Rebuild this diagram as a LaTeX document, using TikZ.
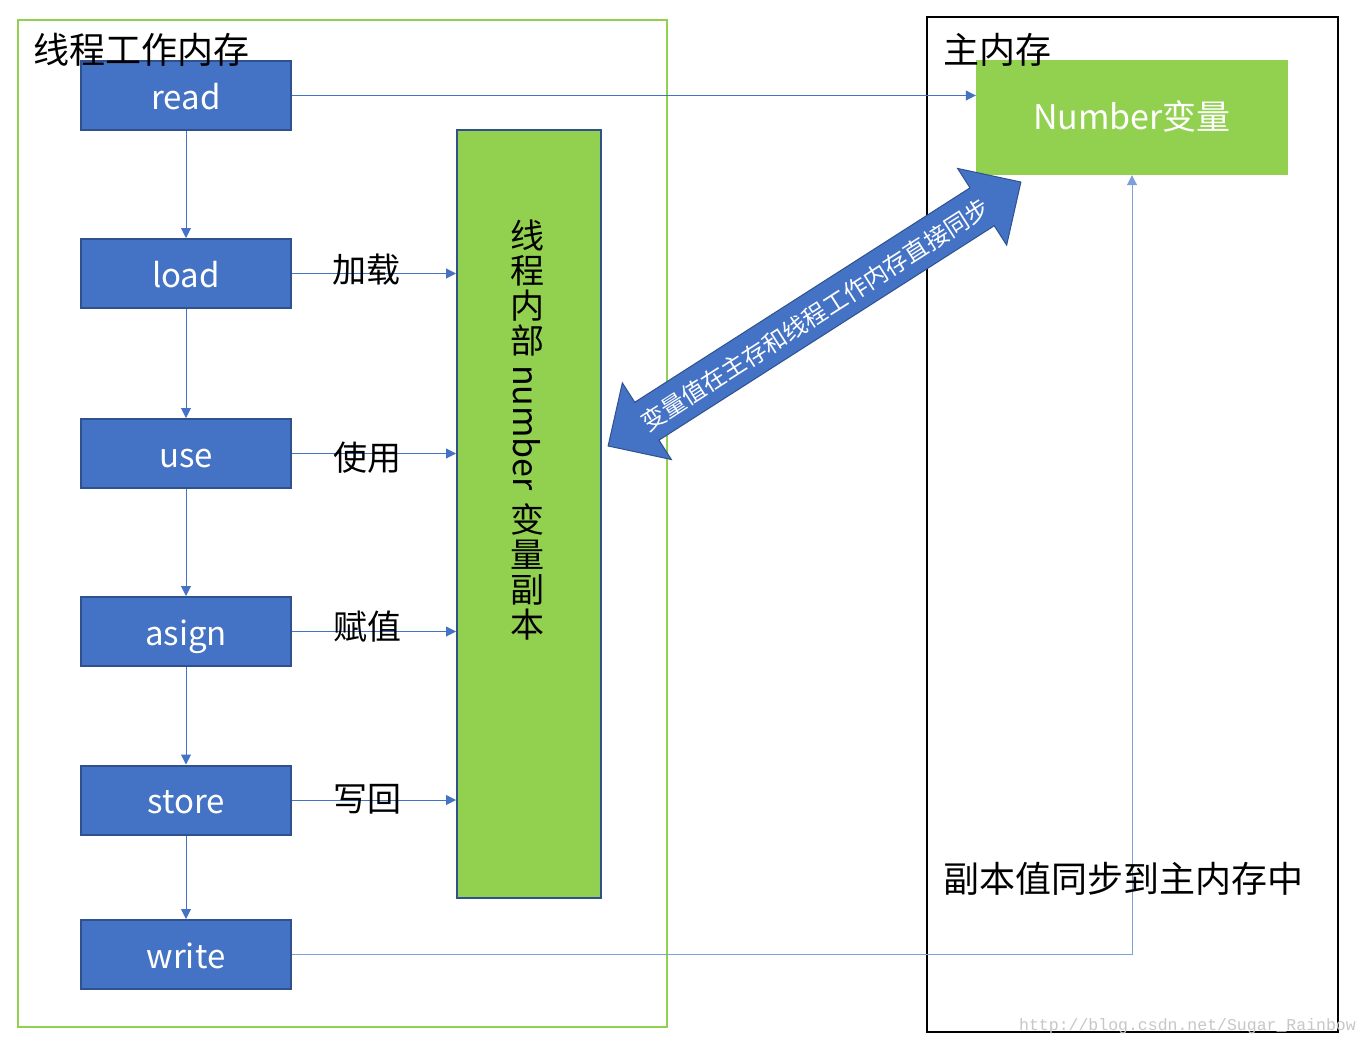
\documentclass[tikz,border=0pt]{standalone}
\usepackage{fontspec}
\usepackage{graphicx}
\setmainfont{Noto Sans CJK SC}
\newfontfamily\wmfont{Liberation Mono}
\usetikzlibrary{arrows.meta}
\definecolor{ppblue}{HTML}{4472C4}
\definecolor{ppdark}{HTML}{2F528F}
\definecolor{ppgreen}{HTML}{92D050}
\definecolor{pplight}{HTML}{7F9FD8}
\newcommand\vch[1]{\hbox to 40pt{\hss\vrule height 29pt depth 5pt width 0pt #1\hss}}
\begin{document}
\begin{tikzpicture}[x=1pt,y=-1pt,
  opbox/.style={draw=ppdark, line width=2pt, fill=ppblue, text=white, minimum width=210pt, minimum height=69pt, inner sep=0pt, text height=27pt, text depth=0pt, font=\fontsize{33}{33}\selectfont},
  conn/.style={draw=ppblue, line width=1pt, -{Triangle[length=10pt,width=10pt]}},
  lbl/.style={font=\fontsize{34}{34}\selectfont, inner sep=0pt},
  ttl/.style={font=\fontsize{36}{36}\selectfont, inner sep=0pt, anchor=west},
  ]
\useasboundingbox[fill=white] (0,0) rectangle (1366,1044);
% frames
\node[draw=ppgreen, line width=2pt, minimum width=649pt, minimum height=1007pt, inner sep=0pt] (thread) at (342.5,523.5) {};
\node[draw=black, line width=2pt, minimum width=411pt, minimum height=1015pt, inner sep=0pt] (main) at (1132.5,524.5) {};
% operation boxes
\node[opbox] (read) at (186,95.5) {read};
\node[opbox] (load) at (186,273.5) {load};
\node[opbox] (use) at (186,453.5) {use};
\node[opbox] (asign) at (186,631.5) {asign};
\node[opbox] (store) at (186,800) {store};
\node[opbox] (write) at (186,954.5) {write};
% copy box
\node[draw=ppdark, line width=2pt, fill=ppgreen, minimum width=144pt, minimum height=768pt, inner sep=0pt] (copy) at (529,514) {};
\node[inner sep=0pt, font=\fontsize{34}{34}\selectfont] (vtext) at (527,431) {\vbox{\baselineskip=0pt\lineskiplimit=0pt\lineskip=1pt
  \vch{线}\vch{程}\vch{内}\vch{部}\vskip 6pt
  \hbox to 40pt{\hss\rotatebox{-90}{number}\hss}\vskip 12pt
  \vch{变}\vch{量}\vch{副}\vch{本}}};
% number box
\node[fill=ppgreen, minimum width=312pt, minimum height=115pt, inner sep=0pt, text=white, text height=27pt, text depth=3pt, font=\fontsize{34}{34}\selectfont] (num) at (1132,117.5) {Number变量};
% connectors
\draw[conn] (read) -- (load);
\draw[conn] (load) -- (use);
\draw[conn] (use) -- (asign);
\draw[conn] (asign) -- (store);
\draw[conn] (store) -- (write);
\draw[conn] (read.east) -- (num.west |- read.east);
\draw[conn] (load.east) -- (copy.west |- load.east);
\draw[conn] (use.east) -- (copy.west |- use.east);
\draw[conn] (asign.east) -- (copy.west |- asign.east);
\draw[conn] (store.east) -- (copy.west |- store.east);
\draw[conn, draw=pplight] (write.east) -| (num.south);
% big double arrow
\begin{scope}[shift={(814.5,314)}, rotate=32.6]
\draw[fill=ppblue, draw=ppdark, line width=1pt]
  (245,0) -- (199,-45.5) -- (199,-22.5) -- (-199,-22.5) -- (-199,-45.5) -- (-245,0)
  -- (-199,45.5) -- (-199,22.5) -- (199,22.5) -- (199,45.5) -- cycle;
\end{scope}
\node[rotate=32.6, text=white, inner sep=0pt, font=\fontsize{24}{24}\selectfont] (sync) at (815,315) {变量值在主存和线程工作内存直接同步};
% labels
\node[lbl] (l1) at (366,270) {加载};
\node[lbl] (l2) at (367,458) {使用};
\node[lbl] (l3) at (367,627) {赋值};
\node[lbl] (l4) at (367,799) {写回};
\node[ttl] (t1) at (33,50) {线程工作内存};
\node[ttl] (t2) at (943,50) {主内存};
\node[ttl] (t3) at (943,879) {副本值同步到主内存中};
\node[anchor=base east, inner sep=0pt, text=black!22, font=\wmfont\fontsize{16.5}{16.5}\selectfont] (wm) at (1356,1030) {http://blog.csdn.net/Sugar\_Rainbow};
\end{tikzpicture}
\end{document}
